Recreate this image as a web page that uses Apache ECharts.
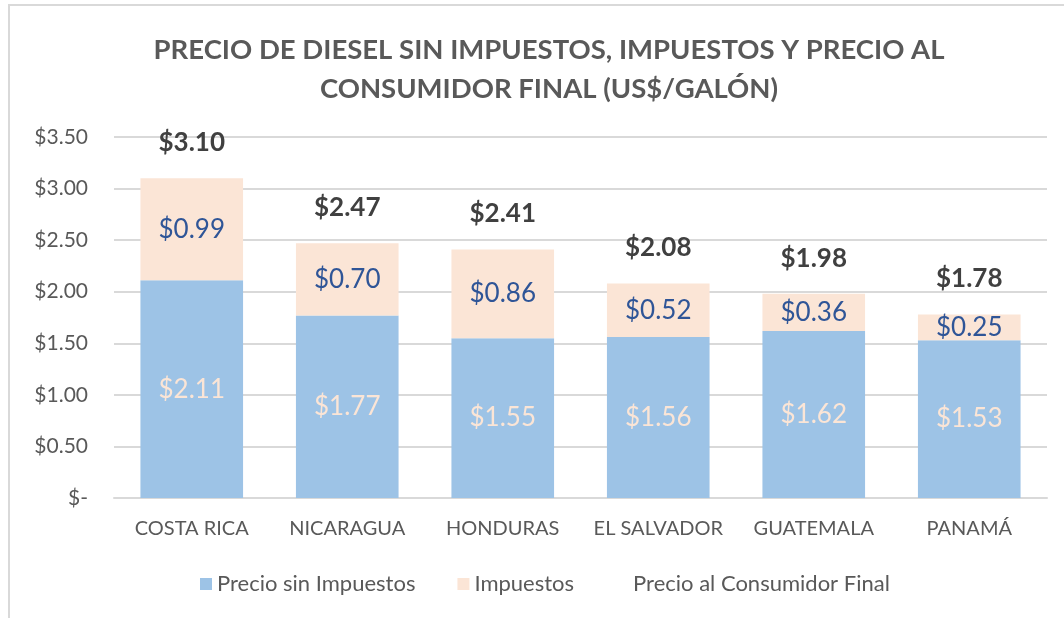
<!DOCTYPE html>
<html>
<head>
<meta charset="utf-8">
<script src="https://cdn.jsdelivr.net/npm/echarts@6/dist/echarts.min.js"></script>
<style>
  html, body { margin: 0; padding: 0; background: #fff; }
  #frame { position: absolute; left: 8px; top: 4px; width: 1100px; height: 700px;
           border-left: 2px solid #d9d9d9; border-top: 2px solid #d9d9d9; }
  #chart { position: absolute; left: 0; top: 0; width: 1064px; height: 618px; }
</style>
</head>
<body>
<div id="frame"></div>
<div id="chart"></div>
<script>
const paises = ['COSTA RICA', 'NICARAGUA', 'HONDURAS', 'EL SALVADOR', 'GUATEMALA', 'PANAMÁ'];
const precioSinImpuestos = [2.11, 1.77, 1.55, 1.56, 1.62, 1.53];
const impuestos = [0.99, 0.70, 0.86, 0.52, 0.36, 0.25];
const precioFinal = [3.10, 2.47, 2.41, 2.08, 1.98, 1.78];

const fuente = 'Lato';
const dolar = (v) => '$' + Number(v).toFixed(2);

const chart = echarts.init(document.getElementById('chart'));

chart.setOption({
  animation: false,
  title: {
    text: 'PRECIO DE DIESEL SIN IMPUESTOS, IMPUESTOS Y PRECIO AL\nCONSUMIDOR FINAL (US$/GALÓN)',
    left: 544,
    top: 26,
    textAlign: 'center',
    textStyle: {
      fontFamily: fuente,
      fontSize: 27.5,
      fontWeight: 'bold',
      color: '#595959',
      lineHeight: 39
    }
  },
  legend: {
    bottom: 18,
    left: 195,
    itemWidth: 12,
    itemHeight: 12,
    itemGap: 42,
    icon: 'rect',
    textStyle: { fontFamily: fuente, fontSize: 22, color: '#595959' },
    data: ['Precio sin Impuestos', 'Impuestos', 'Precio al Consumidor Final']
  },
  grid: { left: 114, right: 17, top: 137, bottom: 120 },
  xAxis: {
    type: 'category',
    data: paises,
    axisLine: { lineStyle: { color: '#d9d9d9', width: 2 } },
    axisTick: { show: false },
    axisLabel: { interval: 0, fontFamily: fuente, fontSize: 20, color: '#595959', margin: 21 }
  },
  yAxis: {
    type: 'value',
    min: 0,
    max: 3.5,
    interval: 0.5,
    axisLine: { show: false },
    axisTick: { show: false },
    splitLine: { lineStyle: { color: '#d9d9d9', width: 2 } },
    axisLabel: {
      fontFamily: fuente,
      fontSize: 21,
      color: '#595959',
      margin: 26,
      formatter: (v) => v === 0 ? '$-' : dolar(v)
    }
  },
  series: [
    {
      name: 'Precio sin Impuestos',
      type: 'bar',
      stack: 'precio',
      barCategoryGap: '34%',
      data: precioSinImpuestos,
      itemStyle: { color: '#9dc3e6' },
      label: {
        show: true,
        position: 'inside',
        fontFamily: fuente,
        fontSize: 26,
        color: '#fbe5d6',
        formatter: (p) => dolar(p.value)
      }
    },
    {
      name: 'Impuestos',
      type: 'bar',
      stack: 'precio',
      data: impuestos,
      itemStyle: { color: '#fbe5d6' },
      label: {
        show: true,
        position: 'inside',
        fontFamily: fuente,
        fontSize: 26,
        color: '#2f5597',
        formatter: (p) => dolar(p.value)
      }
    },
    {
      name: 'Precio al Consumidor Final',
      type: 'line',
      data: precioFinal,
      symbol: 'circle',
      symbolSize: 1,
      showSymbol: true,
      itemStyle: { color: 'rgba(0,0,0,0)' },
      lineStyle: { opacity: 0 },
      label: {
        show: true,
        position: 'top',
        distance: 22,
        fontFamily: fuente,
        fontSize: 26,
        fontWeight: 'bold',
        color: '#404040',
        formatter: (p) => dolar(p.value)
      }
    }
  ]
});
</script>
</body>
</html>
